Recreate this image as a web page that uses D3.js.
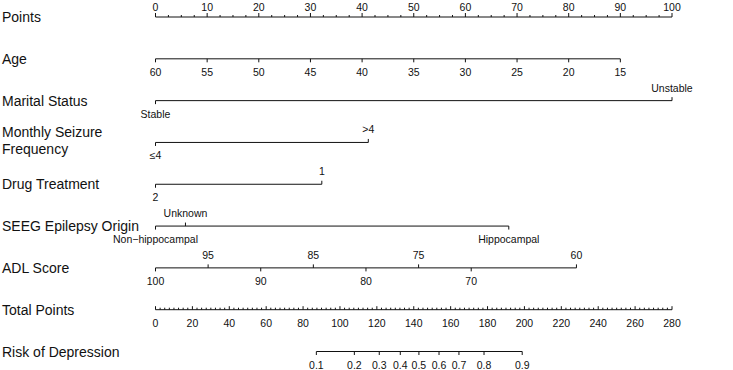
<!DOCTYPE html>
<html>
<head>
<meta charset="utf-8">
<script src="https://cdn.jsdelivr.net/npm/d3@7"></script>
<style>
  body { margin: 0; background: #fff; }
  text { font-family: "Liberation Sans", Arial, sans-serif; fill: #111; }
</style>
</head>
<body>
<script>
var w = 733;
var h = 370;

// row names (left labels)
var rowNames = ["Points", "Age", "Marital Status", "Monthly Seizure|Frequency", "Drug Treatment",
  "SEEG Epilepsy Origin", "ADL Score", "Total Points", "Risk of Depression"];

// points scale ticks
var pointTicks = [0, 10, 20, 30, 40, 50, 60, 70, 80, 90, 100];

// age (60 -> 0 pts, 15 -> 90 pts)
var ageTicks = [60, 55, 50, 45, 40, 35, 30, 25, 20, 15];
var ageRange = [60, 15];
var agePoints = [0, 90];

// categorical rows: label, points, side of label
var maritalLabels = ["Stable", "Unstable"];
var maritalPoints = [0, 100];
var seizureLabels = ["\u22644", ">4"];
var seizurePoints = [0, 41.2];
var drugLabels = ["2", "1"];
var drugPoints = [0, 32.2];
var seegLabels = ["Non\u2212hippocampal", "Unknown", "Hippocampal"];
var seegPoints = [0, 5.8, 68.4];
var seegSides = ["below", "above", "below"];

// ADL score (100 -> 0 pts, 60 -> 81.5 pts)
var adlTicks = [100, 95, 90, 85, 80, 75, 70, 60];
var adlRange = [100, 60];
var adlPoints = [0, 81.5];

// total points
var totalTicks = [0, 20, 40, 60, 80, 100, 120, 140, 160, 180, 200, 220, 240, 260, 280];

// risk of depression vs total points
var riskLabels = ["0.1", "0.2", "0.3", "0.4", "0.5", "0.6", "0.7", "0.8", "0.9"];
var riskTotal = [87.2, 107.8, 121.3, 132.7, 142.8, 153.7, 164.5, 178.1, 198.8];

var svg = d3.select("body")
  .append("svg")
  .attr("width", w)
  .attr("height", h);

var xPts = d3.scaleLinear().domain([0, 100]).range([155.5, 672]);
var xTot = d3.scaleLinear().domain([0, 280]).range([155.5, 672]);
var yRow = d3.scalePoint().domain(rowNames).range([17, 351.5]);

var ageScale = d3.scaleLinear().domain(ageRange).range(agePoints);
var adlScale = d3.scaleLinear().domain(adlRange).range(adlPoints);

// left labels
rowNames.forEach(function(name) {
  var parts = name.split("|");
  var t = svg.append("text")
    .attr("x", 2)
    .attr("y", yRow(name))
    .style("font-size", "14px");
  if (parts.length == 1) {
    t.attr("dy", 5).text(name);
  } else {
    t.append("tspan").attr("x", 2).attr("dy", -5).text(parts[0]);
    t.append("tspan").attr("x", 2).attr("dy", 16.7).text(parts[1]);
  }
});

// draws one row: marks = [{x, label, side, len}]
function drawRow(name, marks, above) {
  var y = yRow(name);
  var up = above || 9;
  var g = svg.append("g");
  var xs = marks.map(function(d) { return d.x; });
  g.append("line")
    .attr("x1", d3.min(xs)).attr("x2", d3.max(xs))
    .attr("y1", y).attr("y2", y)
    .attr("stroke", "#111").attr("stroke-width", 1);
  g.selectAll("line.tick")
    .data(marks)
    .enter()
    .append("line")
    .attr("class", "tick")
    .attr("x1", function(d) { return d.x; })
    .attr("x2", function(d) { return d.x; })
    .attr("y1", y)
    .attr("y2", function(d) { return d.tickUp ? y - d.len : y + d.len; })
    .attr("stroke", "#111").attr("stroke-width", 1);
  g.selectAll("text")
    .data(marks.filter(function(d) { return d.label != null; }))
    .enter()
    .append("text")
    .attr("x", function(d) { return d.x; })
    .attr("y", function(d) { return d.side == "above" ? y - up : y + 17; })
    .attr("text-anchor", "middle")
    .style("font-size", "10.5px")
    .text(function(d) { return d.label; });
}

// Points
var pm = d3.range(0, 100.01, 2.5).map(function(v) {
  var major = pointTicks.indexOf(v) >= 0;
  return { x: xPts(v), label: major ? v : null, side: "above", tickUp: true, len: major ? 4 : 2 };
});
drawRow("Points", pm, 6.5);

// Age
drawRow("Age", ageTicks.map(function(v) {
  return { x: xPts(ageScale(v)), label: v, side: "below", tickUp: false, len: 3.5 };
}));

function catMarks(labels, pts, sides) {
  return labels.map(function(l, i) {
    var s = sides ? sides[i] : (i % 2 == 0 ? "below" : "above");
    return { x: xPts(pts[i]), label: l, side: s, tickUp: s == "above", len: 3.5 };
  });
}

drawRow("Marital Status", catMarks(maritalLabels, maritalPoints));
drawRow("Monthly Seizure|Frequency", catMarks(seizureLabels, seizurePoints));
drawRow("Drug Treatment", catMarks(drugLabels, drugPoints));
drawRow("SEEG Epilepsy Origin", catMarks(seegLabels, seegPoints, seegSides));

// ADL
drawRow("ADL Score", adlTicks.map(function(v, i) {
  var s = i % 2 == 0 ? "below" : "above";
  return { x: xPts(adlScale(v)), label: v, side: s, tickUp: s == "above", len: 3.5 };
}));

// Total points
var tm = d3.range(0, 280.01, 2.5).map(function(v) {
  var major = totalTicks.indexOf(v) >= 0;
  return { x: xTot(v), label: major ? v : null, side: "below", tickUp: true, len: major ? 3.5 : 2 };
});
drawRow("Total Points", tm);

// Risk
drawRow("Risk of Depression", riskLabels.map(function(l, i) {
  return { x: xTot(riskTotal[i]), label: l, side: "below", tickUp: false, len: 3.5 };
}));
</script>
</body>
</html>
